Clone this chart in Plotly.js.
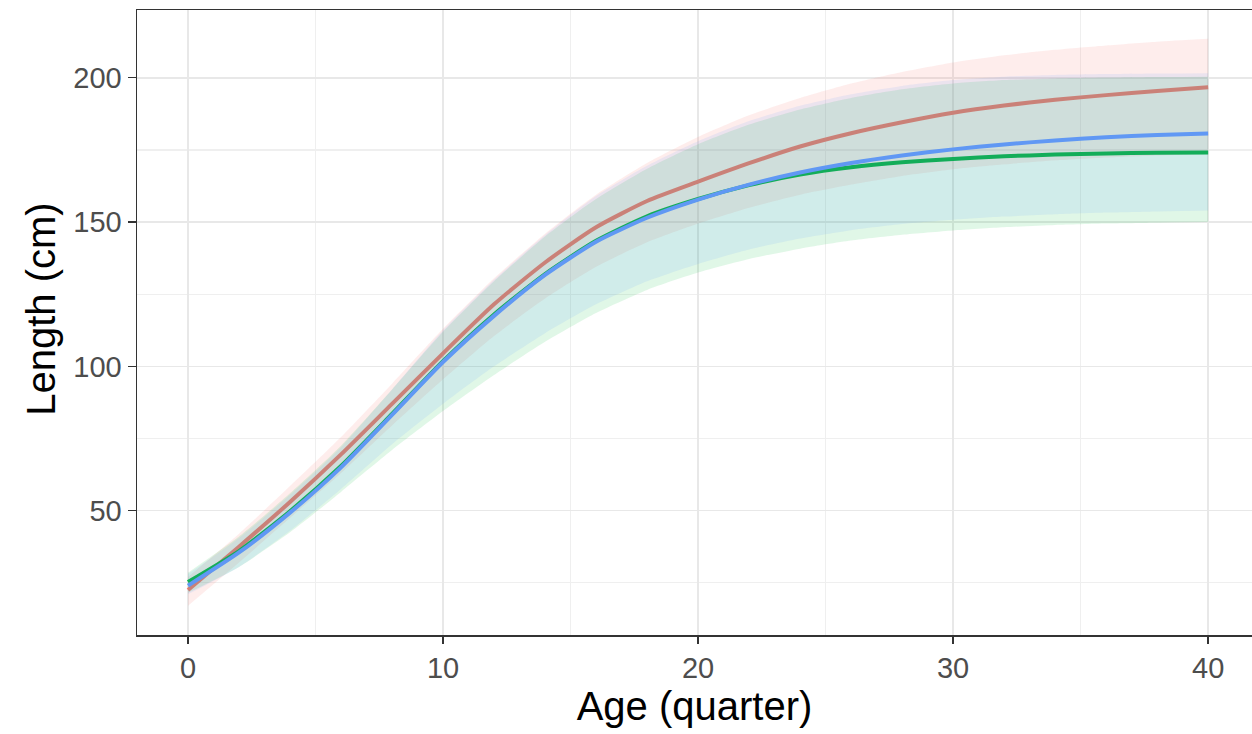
<!DOCTYPE html>
<html>
<head>
<meta charset="utf-8">
<script src="https://cdn.plot.ly/plotly-3.0.1.min.js"></script>
<style>html,body{margin:0;padding:0;overflow:hidden;background:#fff;}#chart{width:1252px;height:734px;}</style>
</head>
<body>
<div id="chart"></div>
<script>
// Age in quarters
const ages = [0,2,4,6,8,10,12,14,16,18,20,22,24,26,28,30,32,34,36,38,40];

// Fitted lengths (cm)
const redLine   = [22.5,37.5,53,69.5,87,104.5,121.5,136,148.2,157.3,164,170.4,176.2,180.8,184.6,187.9,190.4,192.4,194,195.4,196.7];
const greenLine = [25.3,36,49.8,65.5,83.5,101.8,118,132,143.5,152,158,162.8,166.5,169,170.7,171.9,172.8,173.4,173.8,174,174.1];
const blueLine  = [24,35.5,49.3,65,83.2,101.5,117.5,131.7,143.2,151.5,157.8,163,167.2,170.5,173.1,175.2,176.9,178.3,179.4,180.2,180.7];

// Interval bounds (cm)
const redLower   = [17,32,47.5,63,79.5,95.5,110.5,123.5,134.5,143,149.5,155,159.5,163,166,168.3,170,171.4,172.4,173.1,173.6];
const redUpper   = [27,42,58.5,75.5,94,113,130.5,146,159.5,170.5,179.5,187,193,198,202,205.3,207.8,209.7,211.2,212.5,213.5];
const greenLower = [21.5,30.5,42.5,56.5,71,84.5,97,108.5,118.5,126.5,132.5,137.2,140.8,143.6,145.6,147.1,148.2,149,149.5,149.8,150];
const greenUpper = [28.5,41,56,72.5,92,112,129.5,145,158,168.5,177,183.8,189,193,196,198,199.2,199.8,200.1,200.3,200.4];
const blueLower  = [21,30.5,43,57.5,73,87,100,111.5,121.5,129.5,135.5,140.5,144.3,147.2,149.3,150.8,151.9,152.7,153.3,153.7,154];
const blueUpper  = [28,40.5,55.5,72,92,112.5,130,145.5,159,169.5,178,185,190.3,194.3,197.2,199.2,200.4,201,201.3,201.5,201.6];

const seriesNames = ['A','B','C'];
const lineColors = ['#F8766D','#08B043','#6098F4'];
const fillColors = ['rgba(248,118,109,0.13)','rgba(0,186,56,0.12)','rgba(97,156,255,0.12)'];

function bound(vals, name){
  return {x: ages, y: vals, type: 'scatter', mode: 'lines', line: {width: 0, color: 'rgba(0,0,0,0)', shape: 'spline', smoothing: 0.6}, hoverinfo: 'skip', showlegend: false, name: name};
}
function ribbon(lower, upper, fill, name){
  const lo = bound(lower, name + ' lower');
  const up = bound(upper, name + ' upper');
  up.fill = 'tonexty'; up.fillcolor = fill;
  return [lo, up];
}
function line(vals, color, name){
  return {x: ages, y: vals, type: 'scatter', mode: 'lines', line: {color: color, width: 4, shape: 'spline', smoothing: 0.6}, showlegend: false, name: name};
}

const data = [].concat(
  ribbon(redLower, redUpper, fillColors[0], seriesNames[0]), [line(redLine, lineColors[0], seriesNames[0])],
  ribbon(greenLower, greenUpper, fillColors[1], seriesNames[1]), [line(greenLine, lineColors[1], seriesNames[1])],
  ribbon(blueLower, blueUpper, fillColors[2], seriesNames[2]), [line(blueLine, lineColors[2], seriesNames[2])]
);

const tickFont = {family: 'Liberation Sans, Arial, sans-serif', size: 29, color: '#4D4D4D'};
const xTitleFont = {family: 'Liberation Sans, Arial, sans-serif', size: 40, color: '#000'};
const yTitleFont = {family: 'Liberation Sans, Arial, sans-serif', size: 40, color: '#000'};

const layout = {
  width: 1252, height: 734,
  margin: {l: 137, r: 0, t: 10, b: 99, pad: 0},
  paper_bgcolor: '#fff', plot_bgcolor: '#fff',
  showlegend: false,
  xaxis: {
    range: [-2, 41.72], tickmode: 'array', tickvals: [0,10,20,30,40], ticktext: ['0','10','20','30','40'],
    showgrid: true, gridcolor: '#E8E8E8', gridwidth: 1.4,
    minor: {tickmode: 'array', tickvals: [5,15,25,35], showgrid: true, gridcolor: '#EFEFEF', gridwidth: 1.2, ticks: ''},
    zeroline: false, showline: true, linecolor: '#333333', linewidth: 1.5, mirror: true,
    ticks: 'outside', ticklen: 7, tickwidth: 1.3, tickcolor: '#333333',
    tickfont: tickFont,
    title: {text: 'Age (quarter)', font: xTitleFont, standoff: 4}
  },
  yaxis: {
    range: [6.9, 223.5], tickmode: 'array', tickvals: [50,100,150,200], ticktext: ['50','100','150','200'],
    showgrid: true, gridcolor: '#E8E8E8', gridwidth: 1.4,
    minor: {tickmode: 'array', tickvals: [25,75,125,175], showgrid: true, gridcolor: '#EFEFEF', gridwidth: 1.2, ticks: ''},
    zeroline: false, showline: true, linecolor: '#333333', linewidth: 1.5, mirror: false,
    ticks: 'outside', ticklen: 8, tickwidth: 1.3, tickcolor: '#333333',
    tickfont: tickFont
  },
  annotations: [{
    text: 'Length (cm)', font: yTitleFont, textangle: -90, showarrow: false,
    xref: 'paper', yref: 'paper', x: -0.0861, y: 0.522, xanchor: 'center', yanchor: 'middle'
  }]
};

Plotly.newPlot('chart', data, layout, {staticPlot: true, displayModeBar: false});
</script>
</body>
</html>
